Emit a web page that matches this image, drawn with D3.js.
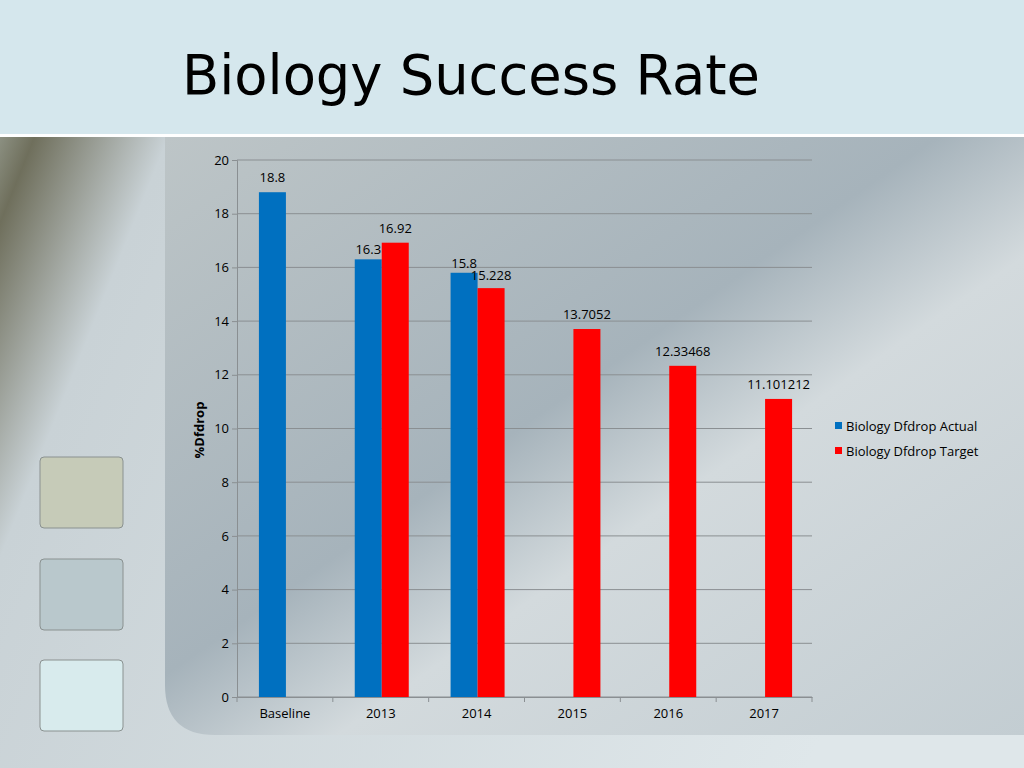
<!DOCTYPE html>
<html><head><meta charset="utf-8">
<script src="https://cdn.jsdelivr.net/npm/d3@7"></script>
<style>body{margin:0;overflow:hidden}</style>
</head><body>
<svg id="chart" width="1024" height="768"></svg>
<script>
const categories = ["Baseline", "2013", "2014", "2015", "2016", "2017"];
const actual = [18.8, 16.3, 15.8, null, null, null];
const target = [null, 16.92, 15.228, 13.7052, 12.33468, 11.101212];
const seriesNames = ["Biology Dfdrop Actual", "Biology Dfdrop Target"];
const seriesColors = ["#0070c0", "#ff0000"];
const yTicks = [0, 2, 4, 6, 8, 10, 12, 14, 16, 18, 20];

const svg = d3.select("#chart");
const defs = svg.append("defs");

// background
const bg = defs.append("linearGradient").attr("id", "bg").attr("x1", 0).attr("y1", 0).attr("x2", 1).attr("y2", 0.3);
bg.append("stop").attr("offset", 0).attr("stop-color", "#b9c4bd");
bg.append("stop").attr("offset", 0.08).attr("stop-color", "#6f6f5c");
bg.append("stop").attr("offset", 0.2).attr("stop-color", "#c9d2d6");
bg.append("stop").attr("offset", 1).attr("stop-color", "#dfe7ea");
svg.append("rect").attr("width", 1024).attr("height", 768).attr("fill", "url(#bg)");

const pg = defs.append("linearGradient").attr("id", "pg").attr("x1", 0).attr("y1", 0).attr("x2", 1).attr("y2", 1);
pg.append("stop").attr("offset", 0).attr("stop-color", "#bdc5c7");
pg.append("stop").attr("offset", 0.45).attr("stop-color", "#a6b3bb");
pg.append("stop").attr("offset", 0.6).attr("stop-color", "#d3dadd");
pg.append("stop").attr("offset", 1).attr("stop-color", "#c3cdd2");
svg.append("path")
  .attr("d", "M165,137 H1024 V735 H215 Q165,735 165,685 Z")
  .attr("fill", "url(#pg)");

// header
svg.append("rect").attr("width", 1024).attr("height", 134).attr("fill", "#d5e7ed");
svg.append("rect").attr("y", 134).attr("width", 1024).attr("height", 3).attr("fill", "#ffffff");
svg.append("text").attr("x", 182).attr("y", 94)
  .attr("font-family", "DejaVu Sans, sans-serif").attr("font-size", 56)
  .attr("textLength", 578).attr("lengthAdjust", "spacingAndGlyphs")
  .attr("fill", "#000").text("Biology Success Rate");

// left squares
[["#c6cbb8", 457], ["#b9c8cc", 559], ["#d8ebed", 660]].forEach(([c, y]) => {
  svg.append("rect").attr("x", 40).attr("y", y).attr("width", 83).attr("height", 71)
    .attr("rx", 4).attr("fill", c).attr("stroke", "#8a9190").attr("stroke-width", 1);
});

// chart
const margin = { top: 160, left: 237, right: 812, bottom: 697 };
const x = d3.scaleBand().domain(categories).range([margin.left, margin.right]);
const y = d3.scaleLinear().domain([0, 20]).range([margin.bottom, margin.top]);
const sub = d3.scaleBand().domain([0, 1]).range([0, 54]);
const font = "Open Sans, Arial, sans-serif";

svg.append("g").selectAll("line").data(yTicks).join("line")
  .attr("x1", margin.left).attr("x2", margin.right)
  .attr("y1", d => y(d)).attr("y2", d => y(d))
  .attr("stroke", "#8a8f92").attr("stroke-width", 1);

const yAxis = svg.append("g").attr("transform", `translate(${margin.left},0)`)
  .call(d3.axisLeft(y).tickValues(yTicks).tickSize(5));
yAxis.select(".domain").attr("stroke", "#8a8f92");
yAxis.selectAll("line").attr("stroke", "#8a8f92");
yAxis.selectAll("text").attr("font-family", font).attr("font-size", 13).attr("fill", "#000");

const xAxis = svg.append("g").attr("transform", `translate(0,${margin.bottom})`)
  .call(d3.axisBottom(x).tickSize(0).tickPadding(12));
xAxis.select(".domain").attr("stroke", "#8a8f92");
xAxis.selectAll("text").attr("font-family", font).attr("font-size", 13).attr("fill", "#000");
svg.append("g").selectAll("line").data(categories.concat(["end"])).join("line")
  .attr("x1", (d, i) => margin.left + i * x.bandwidth())
  .attr("x2", (d, i) => margin.left + i * x.bandwidth())
  .attr("y1", margin.bottom).attr("y2", margin.bottom + 5)
  .attr("stroke", "#8a8f92");

[actual, target].forEach((vals, s) => {
  const data = categories.map((c, i) => ({ c, v: vals[i] })).filter(d => d.v != null);
  const g = svg.append("g");
  const off = x.bandwidth() / 2 - 26 + sub(s);
  g.selectAll("rect").data(data).join("rect")
    .attr("x", d => x(d.c) + off).attr("width", sub.bandwidth())
    .attr("y", d => y(d.v)).attr("height", d => y(0) - y(d.v))
    .attr("fill", seriesColors[s]);
  g.selectAll("text").data(data).join("text")
    .attr("x", d => x(d.c) + off + sub.bandwidth() / 2)
    .attr("y", d => y(d.v) - (s === 0 && d.c !== "Baseline" ? 5 : 10))
    .attr("dy", d => (s === 1 && d.c === "2014") ? 2 : 0)
    .attr("text-anchor", "middle").attr("font-family", font).attr("font-size", 13)
    .text(d => d.v);
});

svg.append("text").attr("transform", "translate(204,430) rotate(-90)")
  .attr("text-anchor", "middle").attr("font-family", font).attr("font-size", 13)
  .attr("font-weight", "bold").text("%Dfdrop");

const lg = svg.append("g").selectAll("g").data(seriesNames).join("g")
  .attr("transform", (d, i) => `translate(835,${427 + i * 25})`);
lg.append("rect").attr("y", -5).attr("width", 7).attr("height", 7).attr("fill", (d, i) => seriesColors[i]);
lg.append("text").attr("x", 11).attr("y", 4).attr("font-family", font).attr("font-size", 13).text(d => d);
</script>
</body></html>
